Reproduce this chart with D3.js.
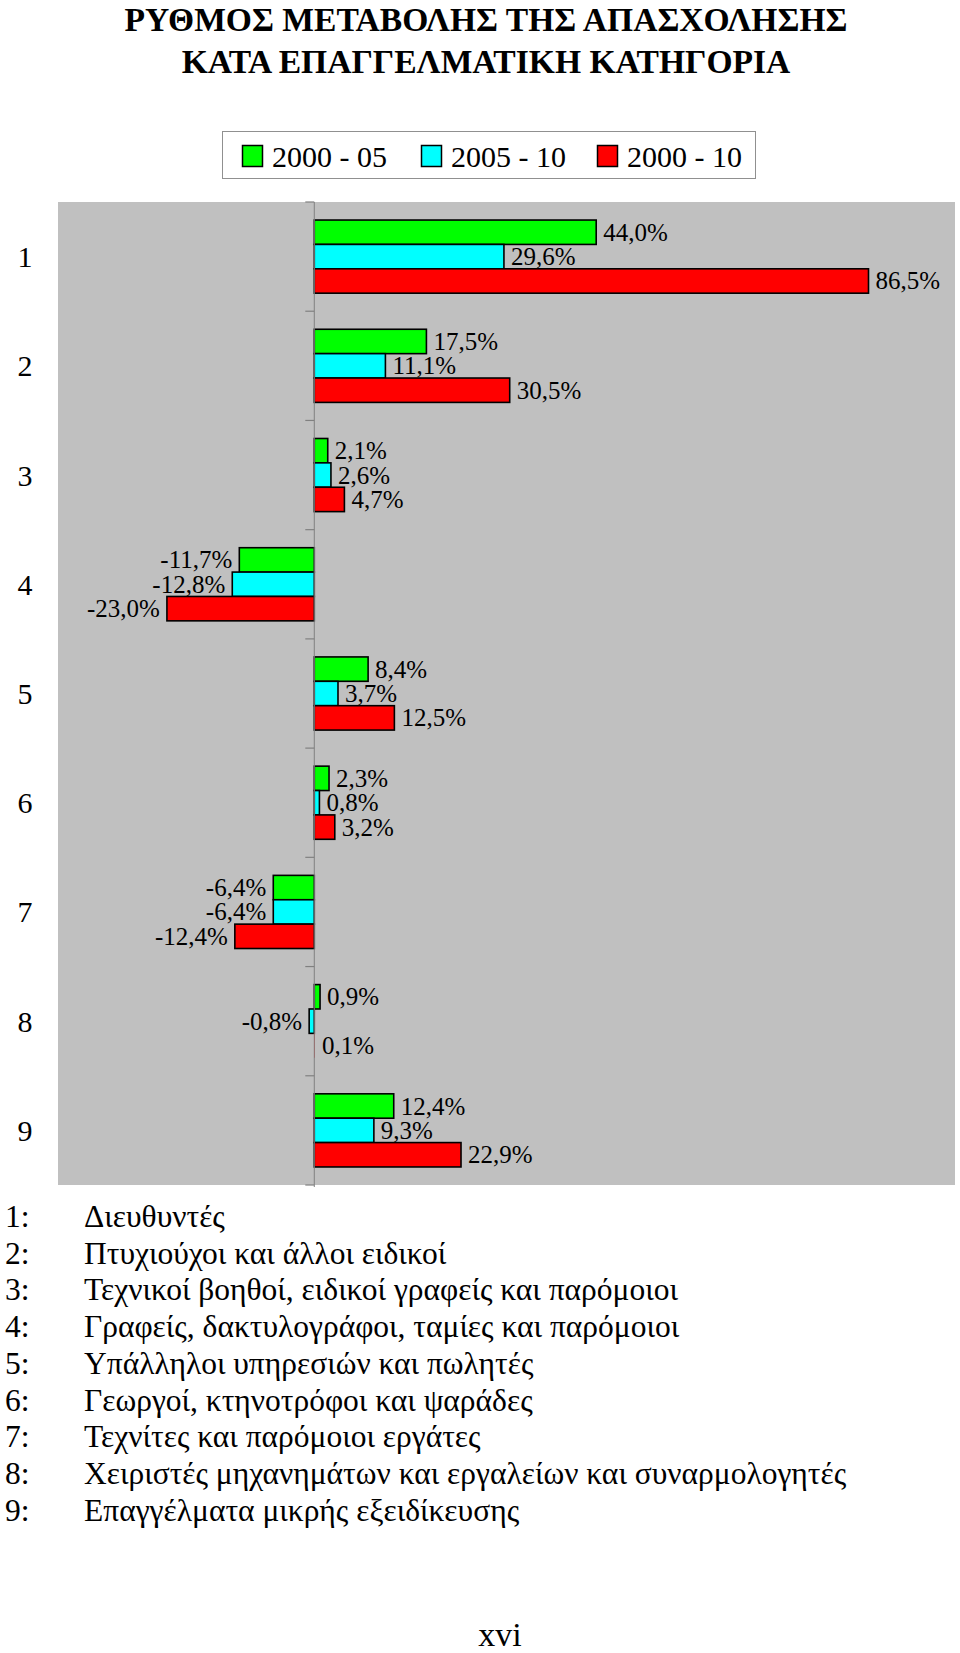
<!DOCTYPE html>
<html>
<head>
<meta charset="utf-8">
<script src="https://cdn.jsdelivr.net/npm/d3@7"></script>
<style>
  html, body { margin: 0; padding: 0; background: #ffffff; }
  svg { display: block; }
  text { font-family: "Liberation Serif", "Times New Roman", "DejaVu Serif", serif; fill: #000; }
</style>
</head>
<body>
<script>
// ---- data ----
const titleLines = ["ΡΥΘΜΟΣ ΜΕΤΑΒΟΛΗΣ ΤΗΣ ΑΠΑΣΧΟΛΗΣΗΣ", "ΚΑΤΑ ΕΠΑΓΓΕΛΜΑΤΙΚΗ ΚΑΤΗΓΟΡΙΑ"];
const categories = ["1", "2", "3", "4", "5", "6", "7", "8", "9"];
const seriesNames = ["2000 - 05", "2005 - 10", "2000 - 10"];
const seriesColors = ["#00ff00", "#00ffff", "#ff0000"];
const values2000_05 = [44.0, 17.5, 2.1, -11.7, 8.4, 2.3, -6.4, 0.9, 12.4];
const values2005_10 = [29.6, 11.1, 2.6, -12.8, 3.7, 0.8, -6.4, -0.8, 9.3];
const values2000_10 = [86.5, 30.5, 4.7, -23.0, 12.5, 3.2, -12.4, 0.1, 22.9];
const categoryNames = [
  "Διευθυντές",
  "Πτυχιούχοι και άλλοι ειδικοί",
  "Τεχνικοί βοηθοί, ειδικοί γραφείς και παρόμοιοι",
  "Γραφείς, δακτυλογράφοι, ταμίες και παρόμοιοι",
  "Υπάλληλοι υπηρεσιών και πωλητές",
  "Γεωργοί, κτηνοτρόφοι και ψαράδες",
  "Τεχνίτες και παρόμοιοι εργάτες",
  "Χειριστές μηχανημάτων και εργαλείων και συναρμολογητές",
  "Επαγγέλματα μικρής εξειδίκευσης"
];
const xDomain = [-40, 100];
const pageNumber = "xvi";

// ---- layout ----
const W = 960, H = 1653;
const plot = { left: 58, right: 955, top: 202, bottom: 1185 };

const svg = d3.select("body").append("svg").attr("width", W).attr("height", H);

// title
svg.selectAll("text.title").data(titleLines).join("text")
  .attr("class", "title")
  .attr("x", 486)
  .attr("y", (d, i) => 31 + i * 42)
  .attr("text-anchor", "middle")
  .style("font-size", "33.6px")
  .style("font-weight", "bold")
  .text(d => d);

// legend
const legend = svg.append("g");
legend.append("rect")
  .attr("x", 222.5).attr("y", 131.5).attr("width", 533).attr("height", 47)
  .attr("fill", "#fff").attr("stroke", "#909090").attr("stroke-width", 1);
const legendX = [242, 421, 597];
const li = legend.selectAll("g.item").data(seriesNames).join("g").attr("class", "item")
  .attr("transform", (d, i) => `translate(${legendX[i]},0)`);
li.append("rect").attr("x", 0.5).attr("y", 145.5).attr("width", 20).attr("height", 21)
  .attr("fill", (d, i) => seriesColors[i]).attr("stroke", "#000").attr("stroke-width", 1.5);
li.append("text").attr("x", 30).attr("y", 167)
  .style("font-size", "30px").text(d => d);

// scales
const x = d3.scaleLinear().domain(xDomain).range([plot.left, plot.right]);
const y = d3.scaleBand().domain(categories).range([plot.top, plot.bottom]);
const ySub = d3.scaleBand().domain(seriesNames).range([0, y.bandwidth()]).paddingInner(0).paddingOuter(0.74);

// plot background
svg.append("rect")
  .attr("x", plot.left).attr("y", plot.top)
  .attr("width", plot.right - plot.left).attr("height", plot.bottom - plot.top)
  .attr("fill", "#c0c0c0");

// data rows
const allSeries = [values2000_05, values2005_10, values2000_10];
const rows = [];
categories.forEach((c, ci) => {
  seriesNames.forEach((s, si) => rows.push({ cat: c, series: s, si, v: allSeries[si][ci] }));
});

const fmt = v => v.toFixed(1).replace(".", ",") + "%";

// bars
svg.append("g").selectAll("rect").data(rows).join("rect")
  .attr("x", d => Math.min(x(0), x(d.v)))
  .attr("y", d => y(d.cat) + ySub(d.series))
  .attr("width", d => Math.abs(x(d.v) - x(0)))
  .attr("height", ySub.bandwidth())
  .attr("fill", d => seriesColors[d.si])
  .attr("stroke", "#000")
  .attr("stroke-width", d => Math.abs(x(d.v) - x(0)) < 1 ? 0 : 1.6);

// category axis (at x = 0)
const axisG = svg.append("g");
axisG.append("line")
  .attr("x1", x(0)).attr("x2", x(0))
  .attr("y1", plot.top).attr("y2", plot.bottom + 2)
  .attr("stroke", "#808080").attr("stroke-width", 1);
const boundaries = categories.map(c => y(c)).concat([plot.bottom]);
axisG.selectAll("line.tick").data(boundaries).join("line")
  .attr("class", "tick")
  .attr("x1", x(0) - 9).attr("x2", x(0))
  .attr("y1", d => d).attr("y2", d => d)
  .attr("stroke", "#808080").attr("stroke-width", 1.2);

// value labels
svg.append("g").selectAll("text").data(rows).join("text")
  .attr("x", d => d.v >= 0 ? x(d.v) + 7 : x(d.v) - 7)
  .attr("y", d => y(d.cat) + ySub(d.series) + ySub.bandwidth() / 2)
  .attr("text-anchor", d => d.v >= 0 ? "start" : "end")
  .attr("dominant-baseline", "central")
  .style("font-size", "25px")
  .text(d => fmt(d.v));

// category labels
svg.append("g").selectAll("text").data(categories).join("text")
  .attr("x", 25)
  .attr("y", d => y(d) + y.bandwidth() / 2)
  .attr("text-anchor", "middle")
  .attr("dominant-baseline", "central")
  .style("font-size", "30px")
  .text(d => d);

// category name list
const list = svg.append("g").selectAll("g").data(categoryNames).join("g")
  .attr("transform", (d, i) => `translate(0,${1227 + i * 36.7})`);
list.append("text").attr("x", 5).attr("y", 0).style("font-size", "31.5px")
  .text((d, i) => categories[i] + ":");
list.append("text").attr("x", 84).attr("y", 0).style("font-size", "31.5px")
  .text(d => d);

// page number
svg.append("text").attr("x", 500).attr("y", 1646).attr("text-anchor", "middle")
  .style("font-size", "34px").text(pageNumber);
</script>
</body>
</html>
